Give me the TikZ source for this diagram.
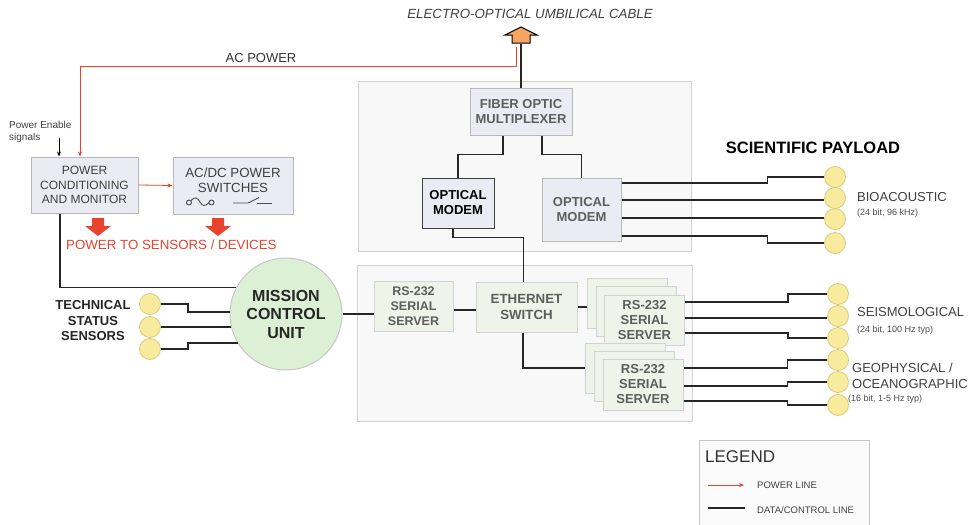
\documentclass[tikz,border=0pt]{standalone}
\usepackage{fontspec}
\setmainfont{Liberation Sans}
\usetikzlibrary{calc,arrows.meta}
\definecolor{boxfill}{HTML}{EBEBF3}
\definecolor{greenfill}{HTML}{EEF4EA}
\definecolor{mcufill}{HTML}{DCF0D6}
\definecolor{panelfill}{HTML}{F8F8F8}
\definecolor{sensfill}{HTML}{F9EB9E}
\definecolor{sensdraw}{HTML}{D9CB7E}
\definecolor{pwred}{HTML}{E8432F}
\definecolor{txtgray}{HTML}{5E5E5E}
\definecolor{cableorange}{HTML}{F5A461}
\begin{document}
\begin{tikzpicture}[x=1pt,y=-1pt,
  data/.style={line width=1.6pt, draw=black!85},
  power/.style={draw=pwred, line width=0.8pt, -{Stealth[length=5pt,width=4pt]}},
  bluebox/.style={draw=gray!55, fill=boxfill, line width=1pt, inner sep=0, align=center,
     font=\fontsize{13}{15}\selectfont\bfseries, text=txtgray},
  greenbox/.style={draw=gray!35, fill=greenfill, line width=1pt, inner sep=0, align=center,
     font=\fontsize{13}{15}\selectfont\bfseries, text=txtgray, minimum width=80, minimum height=50},
  sensor/.style={circle, fill=sensfill, draw=sensdraw, line width=0.8pt, minimum size=21pt, inner sep=0},
  lbl/.style={anchor=west, inner sep=0, text=black!75, font=\fontsize{13}{15}\selectfont},
  sml/.style={anchor=west, inner sep=0, text=black!70, font=\fontsize{9}{10}\selectfont},
  fatdown/.pic={\fill[pwred] (-6,0) -- (6,0) -- (6,8) -- (13,8) -- (0,18) -- (-13,8) -- (-6,8) -- cycle;}
]
\useasboundingbox (0,0) rectangle (975,525);
\fill[white] (0,0) rectangle (975,525);

% panels
\draw[fill=panelfill, draw=gray!35, line width=1pt] (358,81) rectangle (691,251);
\draw[fill=panelfill, draw=gray!35, line width=1pt] (357,265) rectangle (692,421);

% cable arrow
\node[font=\fontsize{13.3}{15}\selectfont\itshape, text=black!75] (cabtxt) at (530,14) {ELECTRO-OPTICAL UMBILICAL CABLE};
\draw[fill=cableorange, draw=black, line width=1pt] (512,43) -- (512,35) -- (505,35) -- (521,27) -- (537,35) -- (530,35) -- (530,43) -- cycle;
\coordinate (cab) at (521,44);
\coordinate (acsrc) at (516,47);

% upper blocks
\node[bluebox, minimum width=102, minimum height=47] (fom) at (521,111.5) {FIBER OPTIC\\MULTIPLEXER};
\node[bluebox, minimum width=72, minimum height=50, draw=black!75, text=black] (om1) at (458,203) {OPTICAL\\MODEM};
\node[bluebox, minimum width=79, minimum height=63] (om2) at (581.5,209.5) {OPTICAL\\MODEM};

% lower blocks
\node[greenbox, minimum width=79, font=\fontsize{12.5}{15}\selectfont\bfseries] (rsL) at (413.5,306) {RS-232\\SERIAL\\SERVER};
\node[greenbox, minimum width=101, font=\fontsize{13.3}{15.5}\selectfont\bfseries] (eth) at (526.5,307) {ETHERNET\\SWITCH};
\node[greenbox] (g1a) at (627,303) {};
\node[greenbox] (g1b) at (636,311.5) {};
\node[greenbox] (g1c) at (644.5,320) {RS-232\\SERIAL\\SERVER};
\node[greenbox] (g2a) at (625,368) {};
\node[greenbox] (g2b) at (634,376) {};
\node[greenbox, minimum height=51] (g2c) at (643,384.5) {RS-232\\SERIAL\\SERVER};

% left blocks
\node[bluebox, minimum width=107, minimum height=56, font=\fontsize{12}{14.5}\selectfont, text=black!75] (pc) at (84.5,185) {POWER\\CONDITIONING\\AND MONITOR};
\node[bluebox, minimum width=120, minimum height=57] (acdc) at (233,185.5) {};
\node[align=center, inner sep=0, font=\fontsize{13.3}{15}\selectfont, text=black!75] (acdct) at (233,180.5) {AC/DC POWER\\SWITCHES};
\node[circle, fill=mcufill, draw=gray!45, line width=1pt, minimum size=112pt, inner sep=0, align=center,
      font=\fontsize{16}{18.5}\selectfont\bfseries, text=black!85] (mcu) at (286,314) {MISSION\\CONTROL\\UNIT};

% fuse and switch symbols
\draw[black!70, line width=0.9pt] (189,202.5) circle (2.5);
\draw[black!70, line width=0.9pt] (191,200.5) .. controls (195,196) and (198,198) .. (200,202) .. controls (202,206) and (205,207) .. (209,202.5);
\draw[black!70, line width=0.9pt] (211.5,202.5) circle (2.5);
\draw[black!70, line width=0.9pt] (233,203) -- (248,203) -- (259,197.5);
\draw[black!70, line width=0.9pt] (257,203) -- (272,203);

% power enable
\node[anchor=north west, inner sep=0, align=left, font=\fontsize{10}{12.5}\selectfont, text=black!75] (pe) at (9,121) {Power Enable\\signals};
\draw[black, line width=0.8pt, -{Stealth[length=5pt,width=4pt]}] ([xshift=-25.5pt,yshift=19pt]pc.north) -- ([xshift=-25.5pt]pc.north);

% AC power
\node[font=\fontsize{13}{15}\selectfont, text=black!80] (actxt) at (261,58) {AC POWER};
\draw[power] (acsrc) -- (516,66) -| ([xshift=-4.5pt]pc.north);
\draw[power] (pc.east) -- (acdc.west);

% power to sensors
\pic at (98,218) {fatdown};
\pic at (218,218) {fatdown};
\node[anchor=west, inner sep=0, font=\fontsize{13.3}{15}\selectfont, text=pwred] (pts) at (66,245) {POWER TO SENSORS / DEVICES};

% data lines
\draw[data] (fom.north) -- (cab);
\draw[data] ($(fom.south)+(-18,0)$) -- ++(0,19) -| (om1.north);
\draw[data] ($(fom.south)+(21,0)$) -- ++(0,19) -| (om2.north);
\draw[data] ($(om1.south)+(-5,0)$) -- ++(0,9) -| ($(eth.north)+(-3,0)$);
\draw[data] ([xshift=-24.5pt]pc.south) |- (mcu.152);
\draw[data] (mcu.east) -- (mcu.east -| rsL.west);
\draw[data] ([yshift=-4pt]rsL.east) -- ([yshift=-4pt]rsL.east -| eth.west);
\draw[data] (eth.east) -- (eth.east -| g1a.west);
\draw[data] ([xshift=-3.5pt]eth.south) |- (g2a.west);

% technical status sensors
\node[sensor] (ts1) at (150,304) {};
\node[sensor] (ts2) at (150,327) {};
\node[sensor] (ts3) at (150,349) {};
\node[align=center, inner sep=0, font=\fontsize{13}{15.5}\selectfont\bfseries, text=black!85] (tst) at (93,321) {TECHNICAL\\STATUS\\SENSORS};
\draw[data] (ts1.east) -- ++(27,0) |- (mcu.178);
\draw[data] (ts2.east) -- (ts2.east -| mcu.194);
\draw[data] (ts3.east) -- ++(27,0) |- (mcu.211);

% scientific payload
\node[font=\fontsize{16.5}{19}\selectfont\bfseries, text=black] (sp) at (813,148) {SCIENTIFIC PAYLOAD};
\node[sensor] (b1) at (835,177) {};
\node[sensor] (b2) at (835,198) {};
\node[sensor] (b3) at (835,219) {};
\node[sensor] (b4) at (835,243) {};
\draw[data] ([yshift=26.5pt]om2.east) -- ++(146,0) |- (b1.west);
\draw[data] ([yshift=9.5pt]om2.east) -- ([yshift=9.5pt]om2.east -| b2.west);
\draw[data] ([yshift=-8.5pt]om2.east) -- ([yshift=-8.5pt]om2.east -| b3.west);
\draw[data] ([yshift=-26.5pt]om2.east) -- ++(146,0) |- (b4.west);
\node[lbl] (bio) at (857,197) {BIOACOUSTIC};
\node[sml] (biot) at (857,213) {(24 bit, 96 kHz)};

\node[sensor] (s1) at (838,294) {};
\node[sensor] (s2) at (838,316) {};
\node[sensor] (s3) at (838,338) {};
\node[sensor] (s4) at (838,360) {};
\node[sensor] (s5) at (838,382) {};
\node[sensor] (s6) at (838,405) {};
\draw[data] ([yshift=18pt]g1c.east) -- ++(103,0) |- (s1.west);
\draw[data] ([yshift=2pt]g1c.east) -- ([yshift=2pt]g1c.east -| s2.west);
\draw[data] ([yshift=-13pt]g1c.east) -- ++(103,0) |- (s3.west);
\draw[data] ([yshift=16.5pt]g2c.east) -- ++(104,0) |- (s4.west);
\draw[data] ([yshift=-1.5pt]g2c.east) -- ++(104,0) |- (s5.west);
\draw[data] ([yshift=-16.5pt]g2c.east) -- ++(104,0) |- (s6.west);
\node[lbl] (seis) at (857,312) {SEISMOLOGICAL};
\node[sml] (seist) at (857,330) {(24 bit, 100 Hz typ)};
\node[lbl] (geo1) at (852,368) {GEOPHYSICAL /};
\node[lbl] (geo2) at (852,384) {OCEANOGRAPHIC};
\node[sml] (geot) at (848,399) {(16 bit, 1-5 Hz typ)};

% legend
\fill[white!97!gray] (699,440) rectangle (869,526);
\draw[gray!45, line width=1pt] (699,526) -- (699,440) -- (869,440) -- (869,526);
\node[anchor=west, inner sep=0, font=\fontsize{17}{19}\selectfont, text=black!80] (leg) at (705,457) {LEGEND};
\coordinate (lp1) at (708,485);
\coordinate (lp2) at (744,485);
\draw[power, line width=1pt] (lp1) -- (lp2);
\node[anchor=west, inner sep=0, font=\fontsize{9.5}{11}\selectfont, text=black!75] (lpt) at (757,485) {POWER LINE};
\coordinate (ld1) at (708,508);
\coordinate (ld2) at (745,508);
\draw[data] (ld1) -- (ld2);
\node[anchor=west, inner sep=0, font=\fontsize{9.5}{11}\selectfont, text=black!75] (ldt) at (757,510) {DATA/CONTROL LINE};
\end{tikzpicture}
\end{document}
